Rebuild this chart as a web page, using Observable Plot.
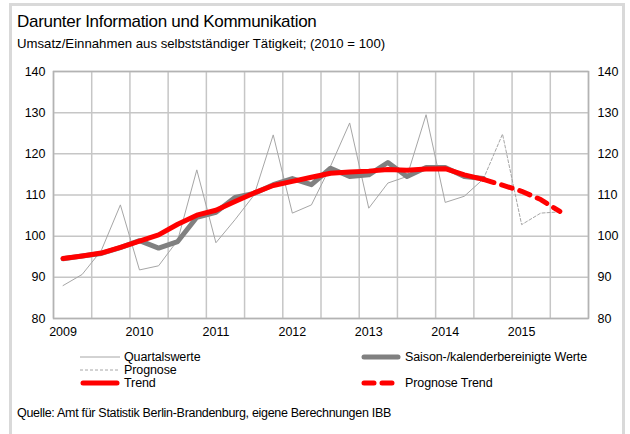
<!DOCTYPE html>
<html>
<head>
<meta charset="utf-8">
<script src="https://cdn.jsdelivr.net/npm/d3@7"></script>
<script src="https://cdn.jsdelivr.net/npm/@observablehq/plot@0.6"></script>
<style>
  html, body { margin: 0; padding: 0; background: #fff; }
  body { width: 630px; height: 434px; overflow: hidden; position: relative; font-family: "Liberation Sans", Arial, sans-serif; color: #000; }
  #frame { position: absolute; left: 9px; top: 3px; width: 616px; height: 440px; border: 3px solid #d9d9d9; box-sizing: border-box; }
  #chart { position: absolute; left: 0; top: 0; }
  .t { position: absolute; white-space: nowrap; }
  #title { left: 17px; top: 12px; font-size: 17px; letter-spacing: -0.3px; }
  #subtitle { left: 17px; top: 36px; font-size: 13.2px; letter-spacing: 0px; }
  #source { left: 17px; top: 406px; font-size: 12.5px; letter-spacing: -0.3px; }
  .leg { position: absolute; font-size: 12.5px; letter-spacing: -0.1px; display: flex; align-items: center; line-height: 12px; }
  .leg span { line-height: 12px; display: inline-block; height: 12px; }
  .leg svg { margin-right: 4px; }
</style>
</head>
<body>
<div id="frame"></div>
<div id="chart"></div>
<div class="t" id="title">Darunter Information und Kommunikation</div>
<div class="t" id="subtitle">Umsatz/Einnahmen aus selbstständiger Tätigkeit; (2010 = 100)</div>
<div class="t" id="source">Quelle: Amt für Statistik Berlin-Brandenburg, eigene Berechnungen IBB</div>
<div id="legend"></div>
<script>
// ---- data (quarterly, 2009Q1 ... 2015Q3) ----
const years = ["2009", "2010", "2011", "2012", "2013", "2014", "2015"];
const quarterCount = 28; // 2009Q1 .. 2015Q4 categories
const yTicks = [80, 90, 100, 110, 120, 130, 140];

// Quartalswerte (2009Q1 .. 2014Q3)
const quartalswerte = [88.0, 90.7, 96.5, 107.6, 91.8, 92.8, 99.0, 116.1,
  98.4, 104.0, 110.0, 124.6, 105.6, 107.6, 117.0, 127.5,
  106.8, 112.9, 114.5, 129.5, 108.2, 109.7, 113.9];
// Prognose (2014Q3 .. 2015Q3)
const prognose = [113.9, 124.8, 102.8, 105.6, 105.9];
// Saison-/kalenderbereinigte Werte (2009Q1 .. 2014Q3)
const saisonbereinigt = [94.5, 95.2, 95.8, 97.2, 98.9, 97.1, 98.7, 104.6,
  105.8, 109.4, 110.4, 112.5, 114.0, 112.5, 116.5, 114.5,
  114.9, 117.9, 114.5, 116.7, 116.7, 114.5, 114.0];
// Trend (2009Q1 .. 2014Q3)
const trend = [94.6, 95.2, 95.9, 97.3, 98.8, 100.3, 102.9, 105.1,
  106.3, 108.4, 110.5, 112.3, 113.3, 114.3, 115.3, 115.6,
  115.8, 116.2, 116.0, 116.3, 116.4, 114.9, 113.8];
// Prognose Trend (2014Q3 .. 2015Q3)
const prognoseTrend = [113.8, 112.4, 110.9, 108.9, 106.0];

const forecastStart = quartalswerte.length - 1;

// ---- build tables ----
const toRows = (arr, start) => arr.map((v, i) => ({q: start + i, v}));
const rQuartal = toRows(quartalswerte, 0);
const rPrognose = toRows(prognose, forecastStart);
const rSaison = toRows(saisonbereinigt, 0);
const rTrend = toRows(trend, 0);
const rPrognoseTrend = toRows(prognoseTrend, forecastStart);

const gridX = d3.range(0, quarterCount + 1, 2).map(i => i - 0.5);
const yearTicks = years.map((y, i) => i * 4);

const gridColor = "#c6c6c6";
const font = "Liberation Sans, Arial, sans-serif";

const chart = Plot.plot({
  width: 630,
  height: 345,
  marginLeft: 53,
  marginRight: 42,
  marginTop: 71,
  marginBottom: 27,
  style: {fontFamily: font, fontSize: "12.5px", color: "#000", background: "transparent"},
  x: {domain: [-0.5, quarterCount - 0.5], axis: null},
  y: {domain: [80, 140], axis: null},
  marks: [
    Plot.ruleY(yTicks, {stroke: gridColor, strokeWidth: 1.5}),
    Plot.ruleX(gridX, {stroke: gridColor, strokeWidth: 1.5}),
    Plot.frame({stroke: "#b3b3b3", strokeWidth: 1.5}),
    Plot.axisY({anchor: "left", ticks: yTicks, tickSize: 0, tickPadding: 8, label: null, fontSize: 12.5}),
    Plot.axisY({anchor: "right", ticks: yTicks, tickSize: 0, tickPadding: 9, label: null, fontSize: 12.5}),
    Plot.axisX({ticks: yearTicks, tickFormat: d => years[d / 4], tickSize: 0, tickPadding: 9, label: null, fontSize: 12.5}),
    Plot.line(rQuartal, {x: "q", y: "v", stroke: "#a6a6a6", strokeWidth: 1}),
    Plot.line(rPrognose, {x: "q", y: "v", stroke: "#a6a6a6", strokeWidth: 1, strokeDasharray: "3,2"}),
    Plot.line(rSaison, {x: "q", y: "v", stroke: "#808080", strokeWidth: 5, strokeLinejoin: "round"}),
    Plot.line(rTrend, {x: "q", y: "v", stroke: "#ff0000", strokeWidth: 5, strokeLinecap: "round", strokeLinejoin: "round"}),
    Plot.line(rPrognoseTrend, {x: "q", y: "v", stroke: "#ff0000", strokeWidth: 5, strokeDasharray: "11,8", strokeLinecap: "round"})
  ]
});
document.getElementById("chart").appendChild(chart);

// ---- legend ----
const legendItems = [
  {label: "Quartalswerte", x: 80, y: 357, stroke: "#a6a6a6", w: 1, dash: null},
  {label: "Prognose", x: 80, y: 370, stroke: "#a6a6a6", w: 1, dash: "3,2"},
  {label: "Trend", x: 80, y: 383, stroke: "#ff0000", w: 5, dash: null},
  {label: "Saison-/kalenderbereinigte Werte", x: 361, y: 357, stroke: "#808080", w: 5, dash: null},
  {label: "Prognose Trend", x: 361, y: 383, stroke: "#ff0000", w: 5, dash: "10,8"}
];
const legend = document.getElementById("legend");
for (const it of legendItems) {
  const div = document.createElement("div");
  div.className = "leg";
  div.style.left = it.x + "px";
  div.style.top = (it.y - 6) + "px";
  div.style.height = "12px";
  const cap = it.w > 2 ? "round" : "butt";
  div.innerHTML = `<svg width="40" height="10"><line x1="${it.w > 2 ? 3 : 0}" y1="5" x2="${it.w > 2 ? 37 : 40}" y2="5" stroke="${it.stroke}" stroke-width="${it.w}" stroke-linecap="${cap}" ${it.dash ? `stroke-dasharray="${it.dash}"` : ""}/></svg><span>${it.label}</span>`;
  legend.appendChild(div);
}
</script>
</body>
</html>
